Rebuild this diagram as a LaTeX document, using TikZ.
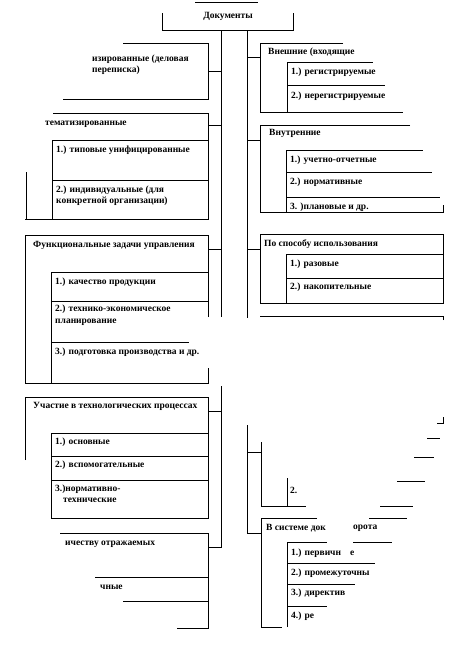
\documentclass[tikz,border=0pt]{standalone}
\usepackage{fontspec}
\setmainfont{Liberation Serif}
\usetikzlibrary{positioning}
\tikzset{ln/.style={line width=0.9pt},
  lbl/.style={anchor=west,inner sep=0pt,font=\fontsize{9.5}{10}\selectfont\bfseries},
  title/.style={lbl,anchor=center}}

\begin{document}
\begin{tikzpicture}[x=1pt,y=-1pt]
\useasboundingbox (0,0) rectangle (456,653);
% top box and the two trunks
\draw[ln] (195,2) -- (258,2);
\draw[ln] (162,13) -- (162,30) -- (293,30) -- (293,13);
\node[title] (doc) at (228,16) {Документы};
\draw[ln] (221,30) -- (221,317);
\draw[ln] (221,386) -- (221,547) -- (208,547);
\draw[ln] (247,30) -- (247,318);
\draw[ln] (247,425) -- (247,533) -- (261,533);

% left column
\draw[ln] (123,43) -- (208,43) -- (208,99) -- (63,99);
\draw[ln] (208,71) -- (221,71);
\node[lbl] (bus1) at (92,59) {изированные (деловая};
\node[lbl] (bus2) at (92,70) {переписка)};

\draw[ln] (53,113) -- (208,113) -- (208,219) -- (25,219);
\draw[ln] (26,172) -- (26,219);
\draw[ln] (208,125) -- (221,125);
\node[lbl] (sys) at (45,124) {тематизированные};
\draw[ln] (52,219) -- (52,140) -- (208,140);
\draw[ln] (52,180) -- (208,180);
\node[lbl] (sys1) at (56,150) {1.) типовые унифицированные};
\node[lbl] (sys2) at (56,190) {2.) индивидуальные (для};
\node[lbl] (sys2b) at (56,201) {конкретной организации)};

\draw[ln] (208,317) -- (208,235) -- (25,235) -- (25,383) -- (208,383) -- (208,368);
\draw[ln] (208,249) -- (221,249);
\node[lbl] (fun) at (33,245) {Функциональные задачи управления};
\draw[ln] (51,383) -- (51,272) -- (208,272);
\draw[ln] (51,301) -- (208,301);
\draw[ln] (51,342) -- (189,342);
\node[lbl] (fun1) at (55,282) {1.) качество продукции};
\node[lbl] (fun2) at (55,309) {2.) технико-экономическое};
\node[lbl] (fun2b) at (55,322) {планирование};
\node[lbl] (fun3) at (55,352) {3.) подготовка производства и др.};

\draw[ln] (25,460) -- (25,397) -- (208,397) -- (208,518) -- (51,518) -- (51,433) -- (208,433);
\draw[ln] (208,411) -- (221,411);
\node[lbl] (tec) at (33,406) {Участие в технологических процессах};
\draw[ln] (51,456) -- (208,456);
\draw[ln] (51,480) -- (208,480);
\node[lbl] (tec1) at (55,442) {1.) основные};
\node[lbl] (tec2) at (55,465) {2.) вспомогательные};
\node[lbl] (tec3) at (55,489) {3.)нормативно-};
\node[lbl] (tec3b) at (63,500) {технические};

\draw[ln] (60,533) -- (208,533) -- (208,628) -- (177,628);
\draw[ln] (95,577) -- (208,577);
\draw[ln] (123,601) -- (208,601);
\node[lbl] (qty) at (65,544) {ичеству отражаемых};
\node[lbl] (qty1) at (100,587) {чные};

% right column
\draw[ln] (343,43) -- (260,43) -- (260,112) -- (403,112);
\draw[ln] (247,57) -- (260,57);
\node[lbl] (ext) at (268,52) {Внешние (входящие};
\draw[ln] (287,112) -- (287,62) -- (373,62);
\draw[ln] (287,85) -- (385,85);
\node[lbl] (ext1) at (291,72) {1.) регистрируемые};
\node[lbl] (ext2) at (291,96) {2.) нерегистрируемые};

\draw[ln] (410,125) -- (260,125) -- (260,212) -- (443,212) -- (443,205);
\draw[ln] (247,140) -- (260,140);
\node[lbl] (int) at (269,133) {Внутренние};
\draw[ln] (286,212) -- (286,150) -- (423,150);
\draw[ln] (286,172) -- (432,172);
\draw[ln] (286,197) -- (440,197);
\node[lbl] (int1) at (290,160) {1.) учетно-отчетные};
\node[lbl] (int2) at (290,182) {2.) нормативные};
\node[lbl] (int3) at (290,207) {3. )плановые и др.};

\draw[ln] (260,234) rectangle (443,303);
\draw[ln] (247,249) -- (260,249);
\node[lbl] (use) at (264,244) {По способу использования};
\draw[ln] (286,303) -- (286,254) -- (443,254);
\draw[ln] (286,278) -- (443,278);
\node[lbl] (use1) at (290,264) {1.) разовые};
\node[lbl] (use2) at (290,287) {2.) накопительные};

\draw[ln] (443,320) -- (443,316) -- (260,316);
\draw[ln] (261,442) -- (261,506) -- (306,506);
\draw[ln] (247,452) -- (261,452);
\draw[ln] (287,478) -- (287,506);
\node[lbl] (two) at (290,490) {2.};
\draw[ln] (437,423) -- (443,423) -- (443,417);
\draw[ln] (427,438) -- (440,438);
\draw[ln] (414,457) -- (434,457);
\draw[ln] (397,481) -- (425,481);
\draw[ln] (380,506) -- (413,506);

\draw[ln] (317,518) -- (261,518) -- (261,627) -- (282,627);
\draw[ln] (369,518) -- (407,518);
\node[lbl] (flo) at (266,528) {В системе док};
\node[lbl] (flob) at (353,528) {орота};
\draw[ln] (287,627) -- (287,542) -- (327,542);
\draw[ln] (353,542) -- (392,542);
\draw[ln] (287,563) -- (375,563);
\draw[ln] (287,584) -- (355,584);
\draw[ln] (287,606) -- (327,606);
\node[lbl] (flo1) at (291,553) {1.) первичн};
\node[lbl] (flo1b) at (350,553) {е};
\node[lbl] (flo2) at (291,573) {2.) промежуточны};
\node[lbl] (flo3) at (291,593) {3.) директив};
\node[lbl] (flo4) at (291,616) {4.) ре};
\end{tikzpicture}
\end{document}
